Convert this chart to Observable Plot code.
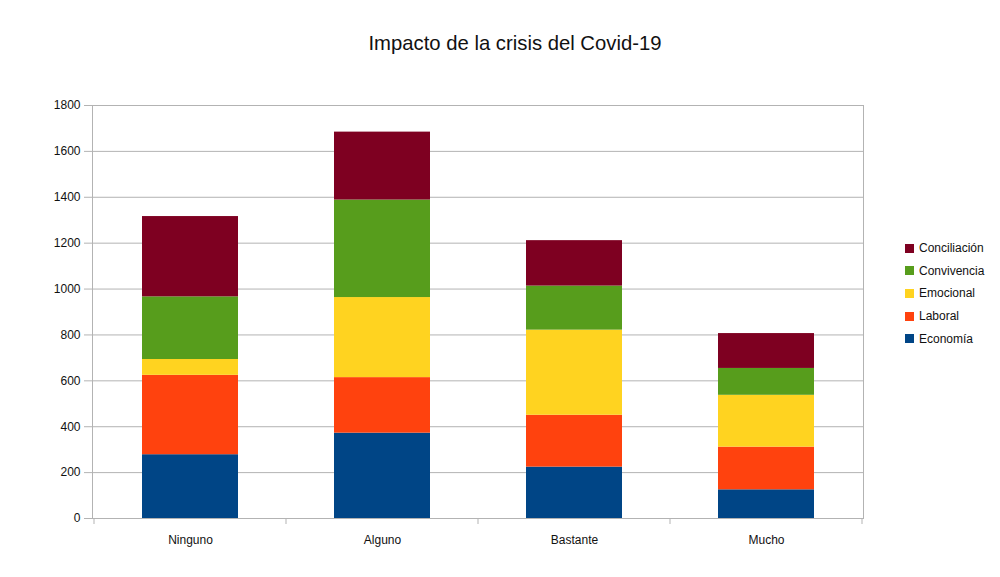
<!DOCTYPE html>
<html>
<head>
<meta charset="utf-8">
<script src="https://cdn.jsdelivr.net/npm/d3@7"></script>
<script src="https://cdn.jsdelivr.net/npm/@observablehq/plot@0.6"></script>
<style>
  html, body { margin: 0; padding: 0; background: #fff; }
  #wrap { position: relative; width: 1000px; height: 577px; font-family: "Liberation Sans", Arial, sans-serif; }
  #title { position: absolute; left: 0; width: 1030px; top: 32px; text-align: center; font-size: 20.3px; color: #111; }
  #legend { position: absolute; left: 905px; top: 237px; font-size: 12px; color: #111; }
  #legend .row { height: 22.6px; display: flex; align-items: center; }
  #legend .sw { width: 9px; height: 9px; margin-right: 5px; }
  svg { position: absolute; left: 0; top: 0; }
</style>
</head>
<body>
<div id="wrap">
  <div id="title">Impacto de la crisis del Covid-19</div>
  <div id="legend"></div>
</div>
<script>
const categories = ["Ninguno", "Alguno", "Bastante", "Mucho"];
const series = ["Economía", "Laboral", "Emocional", "Convivencia", "Conciliación"];
const colors = ["#004586", "#ff420e", "#ffd320", "#579d1c", "#7e0021"];
const economia     = [278, 372, 224, 125];
const laboral      = [346, 242, 226, 186];
const emocional    = [69, 349, 371, 226];
const convivencia  = [273, 425, 192, 117];
const conciliacion = [350, 296, 198, 152];
const yTicks = [0, 200, 400, 600, 800, 1000, 1200, 1400, 1600, 1800];

const values = [economia, laboral, emocional, convivencia, conciliacion];
const data = [];
series.forEach((s, i) => categories.forEach((c, j) => data.push({cat: c, serie: s, value: values[i][j]})));

const grey = "#b3b3b3";

const boundaryTicks = (index, scales, vals, dims) => {
  const g = d3.create("svg:g");
  const x = scales.x;
  const step = x.step();
  const y0 = dims.height - dims.marginBottom;
  const xs = categories.map(c => x(c) - (step - x.bandwidth()) / 2);
  xs.push(xs[xs.length - 1] + step);
  xs.forEach(px => {
    g.append("line").attr("x1", px).attr("x2", px).attr("y1", y0).attr("y2", y0 + 6)
      .attr("stroke", grey);
  });
  return g.node();
};

const chart = Plot.plot({
  width: 1000,
  height: 577,
  marginTop: 105,
  marginBottom: 59,
  marginLeft: 92,
  marginRight: 137,
  style: { fontFamily: "Liberation Sans, Arial, sans-serif", fontSize: "12px", color: "#111", background: "transparent" },
  x: { domain: categories, paddingInner: 0.5, paddingOuter: 0.25, label: null },
  y: { domain: [0, 1800], ticks: yTicks, label: null },
  color: { domain: series, range: colors },
  marks: [
    Plot.gridY(yTicks, { stroke: grey, strokeOpacity: 1 }),
    Plot.frame({ stroke: grey }),
    Plot.axisY(yTicks, { tickSize: 8, tickPadding: 4, stroke: grey, label: null, fill: "#111", tickFormat: d => String(d) }),
    Plot.axisX({ tickSize: 0, tickPadding: 17, label: null, fill: "#111" }),
    Plot.barY(data, Plot.stackY({ x: "cat", y: "value", fill: "serie", order: series })),
    boundaryTicks
  ]
});
document.getElementById("wrap").appendChild(chart);

const legend = document.getElementById("legend");
series.slice().reverse().forEach(s => {
  const row = document.createElement("div");
  row.className = "row";
  const sw = document.createElement("div");
  sw.className = "sw";
  sw.style.background = colors[series.indexOf(s)];
  const t = document.createElement("span");
  t.textContent = s;
  row.appendChild(sw); row.appendChild(t);
  legend.appendChild(row);
});
</script>
</body>
</html>
